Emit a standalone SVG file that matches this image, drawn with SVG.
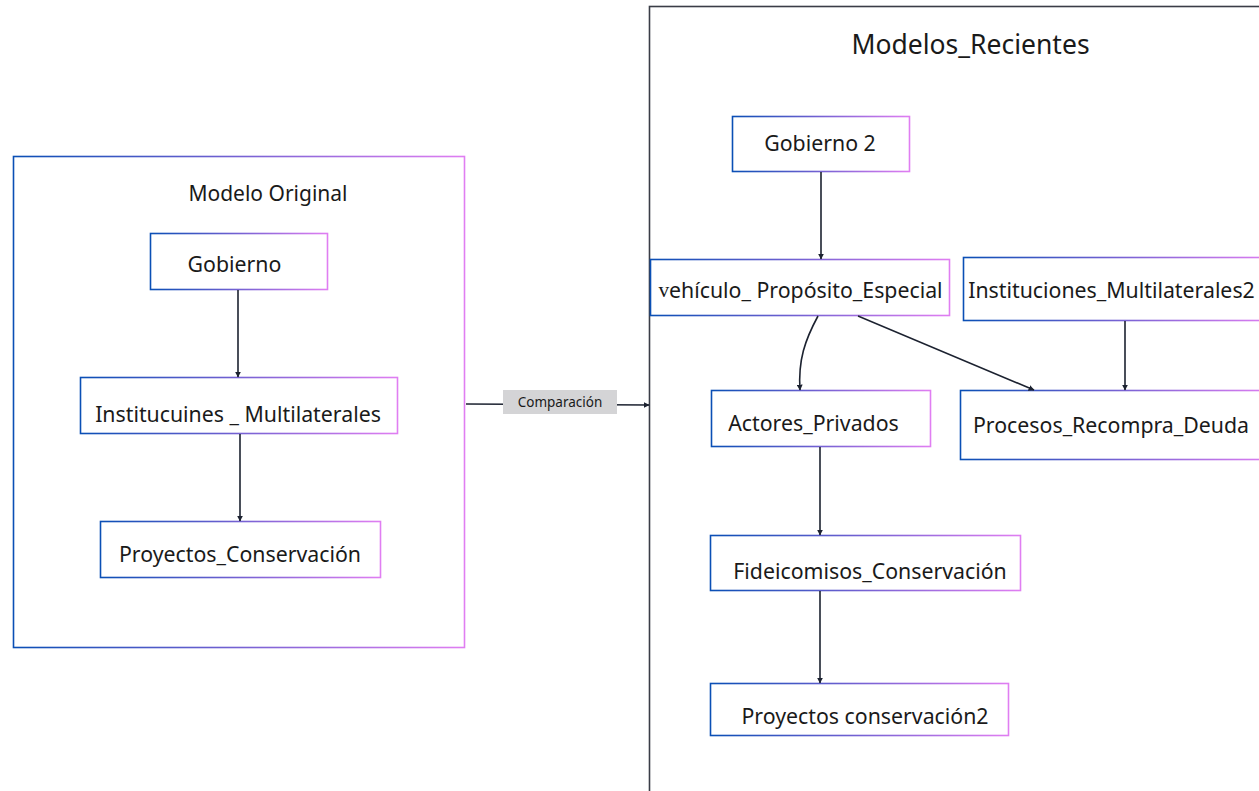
<svg xmlns="http://www.w3.org/2000/svg" width="1259" height="791" viewBox="0 0 1259 791">
<defs>
<linearGradient id="g" x1="0" y1="0" x2="1" y2="0">
<stop offset="0" stop-color="#0a4fb5"/>
<stop offset="0.45" stop-color="#6b5fd0"/>
<stop offset="1" stop-color="#e07ef2"/>
</linearGradient>
<marker id="arr" viewBox="0 0 10 10" refX="9" refY="5" markerWidth="6" markerHeight="6" markerUnits="userSpaceOnUse" orient="auto">
<path d="M0,0 L10,5 L0,10 z" fill="#1c2230"/>
</marker>
<style>
.box{fill:#ffffff;stroke:url(#g);stroke-width:1.6}
.t{font-family:"Noto Sans","Open Sans",sans-serif;font-size:21.3px;fill:#1a1a1a;text-anchor:middle;dominant-baseline:central}
.edge{fill:none;stroke:#1c2230;stroke-width:1.6;marker-end:url(#arr)}
</style>
</defs>
<rect width="1259" height="791" fill="#ffffff"/>

<g id="modelo-original">
<rect class="box" x="13.5" y="156.5" width="451" height="491"/>
<text class="t" x="268" y="193" style="font-size:21px">Modelo Original</text>
</g>

<g id="modelos-recientes">
<rect x="649.5" y="6.5" width="630" height="800" fill="none" stroke="#3a3d47" stroke-width="1.6"/>
<text class="t" x="970.5" y="44" style="font-size:26.5px">Modelos_Recientes</text>
</g>

<g id="gobierno">
<rect class="box" x="150.5" y="233.5" width="177" height="56"/>
<text class="t" x="234.5" y="263.5">Gobierno</text>
</g>
<g id="instituciones">
<rect class="box" x="80.5" y="377.5" width="317" height="56"/>
<text class="t" x="238" y="413">Institucuines _ Multilaterales</text>
</g>
<g id="proyectos">
<rect class="box" x="100.5" y="521.5" width="280" height="56"/>
<text class="t" x="240" y="553.5">Proyectos_Conservación</text>
</g>

<g id="gobierno2">
<rect class="box" x="732.5" y="116.5" width="177" height="55"/>
<text class="t" x="820" y="142.5">Gobierno 2</text>
</g>
<g id="vehiculo">
<rect class="box" x="650.5" y="259.5" width="299" height="56"/>
<text class="t" x="800.5" y="289.5"><tspan style="font-family:'Liberation Serif',serif">v</tspan>ehículo_ Propósito_Especial</text>
</g>
<g id="instituciones2">
<rect class="box" x="963.5" y="257.5" width="310" height="63"/>
<text class="t" x="1111.5" y="289.5">Instituciones_Multilaterales2</text>
</g>
<g id="actores">
<rect class="box" x="711.5" y="390.5" width="219" height="56"/>
<text class="t" x="813.5" y="422.5">Actores_Privados</text>
</g>
<g id="procesos">
<rect class="box" x="960.5" y="390.5" width="313" height="69"/>
<text class="t" x="1111" y="424.5">Procesos_Recompra_Deuda</text>
</g>
<g id="fideicomisos">
<rect class="box" x="710.5" y="535.5" width="310" height="55"/>
<text class="t" x="870" y="570.5">Fideicomisos_Conservación</text>
</g>
<g id="proyectos2">
<rect class="box" x="710.5" y="683.5" width="298" height="52"/>
<text class="t" x="865" y="715.5">Proyectos conservación2</text>
</g>

<g id="connectors">
<path class="edge" d="M238,290 L238,377"/>
<path class="edge" d="M240,434 L240,521"/>
<path class="edge" d="M466,404 L649,405"/>
<rect x="503" y="390" width="114" height="24" fill="#d4d4d6"/>
<text class="t" x="560" y="402" style="font-size:13.5px">Comparación</text>
<path class="edge" d="M821,172 L821,259"/>
<path class="edge" d="M818,316 C805,340 798,360 800,390"/>
<path class="edge" d="M858,316 L1034,390"/>
<path class="edge" d="M1125,321 L1125,390"/>
<path class="edge" d="M820,447 L820,535"/>
<path class="edge" d="M820,591 L820,683"/>
</g>
</svg>
